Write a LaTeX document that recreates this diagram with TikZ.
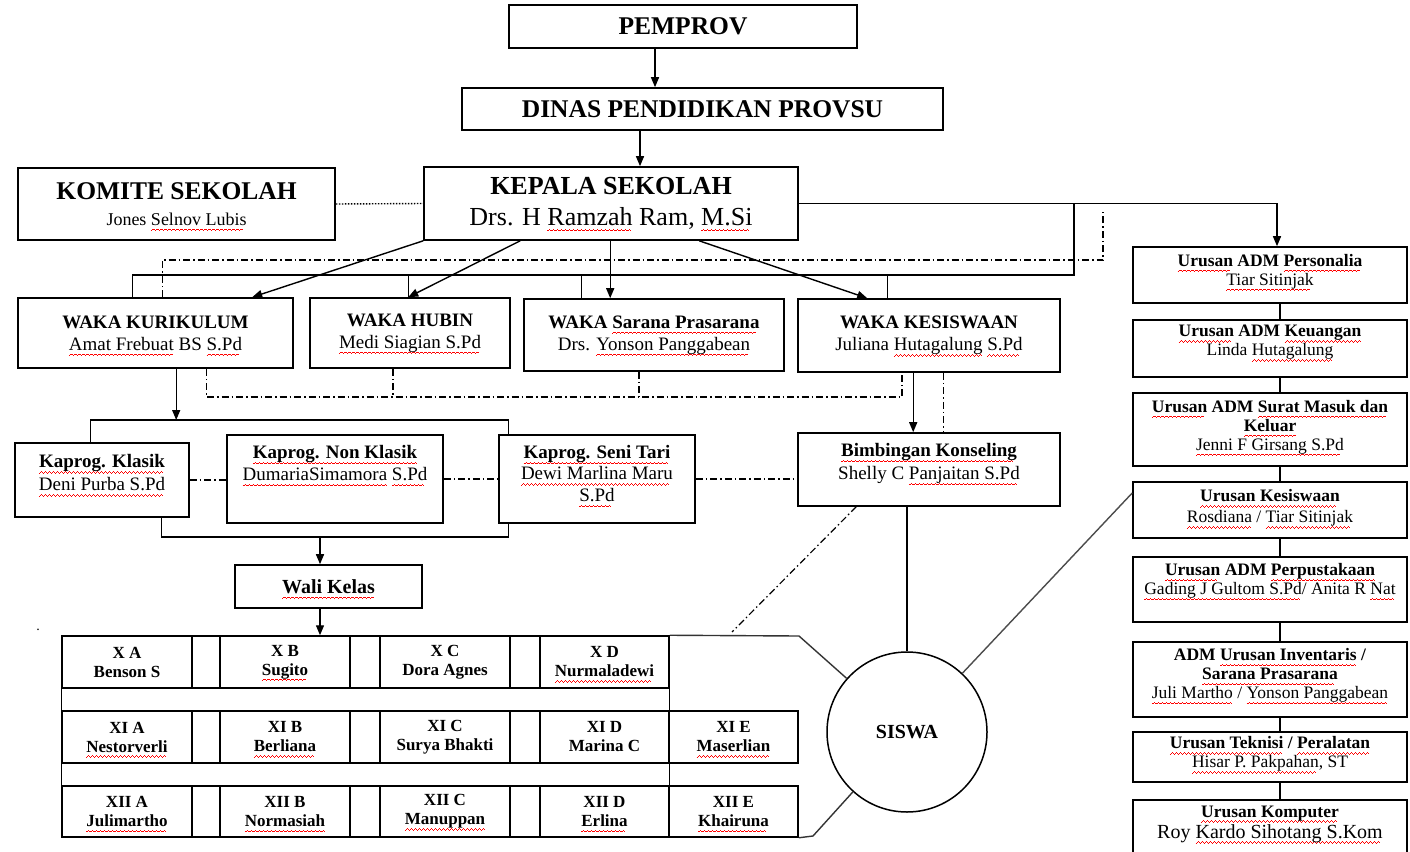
\documentclass[tikz,border=0pt]{standalone}
\usepackage{fontspec}
\setmainfont{Liberation Serif}
\usetikzlibrary{arrows.meta,calc}
\newsavebox\sqbox
\newcommand\sqpat{\hbox{\rule[-5.6pt]{1pt}{0.8pt}\rule[-4.9pt]{1pt}{0.8pt}\rule[-4.2pt]{1pt}{0.8pt}\rule[-4.9pt]{1pt}{0.8pt}}}
\newcommand\sq[1]{\leavevmode\sbox\sqbox{#1}\rlap{\smash{\color{red}\leaders\sqpat\hskip\wd\sqbox}}\usebox\sqbox}
\newcommand\fsz[2]{\fontsize{#1}{#2}\selectfont}
\begin{document}
\begin{tikzpicture}[x=1pt,y=-1pt,
  box/.style={draw,line width=1.6pt,inner sep=0pt,align=center},
  txt/.style={inner sep=0pt,align=center},
  ln/.style={line width=1.4pt},
  arr/.style={line width=1.4pt,-{Triangle[length=10pt,width=8pt]}},
  dd/.style={line width=1.2pt,dash pattern=on 7pt off 3pt on 1.5pt off 3pt},
  cell/.style={draw,line width=1.5pt,inner sep=0pt,align=center,font=\fsz{17}{19}\bfseries},
]
\fill[white] (0,0) rectangle (1410,851);
\useasboundingbox (0,0) rectangle (1410,851);

% top chain
\node[box,minimum width=348pt,minimum height=43pt,font=\fsz{25.5}{30}\bfseries] (pem) at (683,26.5) {PEMPROV};
\node[box,minimum width=481pt,minimum height=42pt,font=\fsz{25.5}{30}\bfseries] (din) at (702.5,109) {DINAS PENDIDIKAN PROVSU};
\node[box,minimum width=374pt,minimum height=73pt,font=\fsz{26}{31}] (kep) at (611,203.5) {\textbf{KEPALA SEKOLAH}\\Drs. H \sq{Ramzah} Ram, \sq{M.Si}};
\node[box,minimum width=317pt,minimum height=72pt,font=\fsz{18}{26}] (kom) at (176.5,204) {{\fsz{25.5}{26}\bfseries KOMITE SEKOLAH}\\Jones \sq{Selnov Lubis}};

% WAKA
\node[box,minimum width=275pt,minimum height=70pt,font=\fsz{19}{22}] (wk) at (155.5,333) {\textbf{WAKA KURIKULUM}\\\sq{Amat Frebuat} BS \sq{S.Pd}};
\node[box,minimum width=200pt,minimum height=70pt,font=\fsz{19}{22}] (hub) at (410,333) {\textbf{WAKA HUBIN}\\\sq{Medi Siagian S.Pd}};
\node[box,minimum width=260pt,minimum height=72pt,font=\fsz{19}{22}] (sar) at (654,335) {\textbf{WAKA \sq{Sarana Prasarana}}\\Drs. \sq{Yonson Panggabean}};
\node[box,minimum width=262pt,minimum height=73pt,font=\fsz{19}{22}] (kes) at (929,335.5) {\textbf{WAKA KESISWAAN}\\Juliana \sq{Hutagalung} \sq{S.Pd}};

% Kaprog + BK
\node[box,minimum width=174pt,minimum height=74pt] (kk) at (102,480) {};
\node[txt,font=\fsz{19}{23}] (kkT) at (102,473) {\textbf{\sq{Kaprog. Klasik}}\\\sq{Deni Purba S.Pd}};
\node[box,minimum width=216pt,minimum height=88pt] (knk) at (335,479) {};
\node[txt,font=\fsz{19}{22}] (knkT) at (335,463) {\textbf{\sq{Kaprog. Non Klasik}}\\\sq{DumariaSimamora} \sq{S.Pd}};
\node[box,minimum width=196pt,minimum height=88pt] (kst) at (597,479) {};
\node[txt,font=\fsz{19}{21.5}] (kstT) at (597,473.5) {\textbf{\sq{Kaprog. Seni Tari}}\\\sq{Dewi Marlina Maru}\\\sq{S.Pd}};
\node[box,minimum width=262pt,minimum height=73pt] (bk) at (929,469.5) {};
\node[txt,font=\fsz{19}{23}] (bkT) at (929,463.5) {\textbf{\sq{Bimbingan Konseling}}\\Shelly C \sq{Panjaitan S.Pd}};
\node[box,minimum width=187pt,minimum height=43pt,font=\fsz{20}{24}\bfseries] (wali) at (328.5,586.5) {\sq{Wali Kelas}};
\node[draw,circle,line width=1.5pt,minimum size=160pt,inner sep=0pt,font=\fsz{20}{24}\bfseries] (sis) at (907,732) {SISWA};

% class grid
\node[cell,minimum width=130pt,minimum height=52pt] (xa1) at (127,662) {X A\\Benson S};
\node[cell,minimum width=28pt,minimum height=52pt] (g11) at (206,662) {};
\node[cell,minimum width=130pt,minimum height=52pt] (xb1) at (285,662) {X B\\\sq{Sugito}};
\node[cell,minimum width=30pt,minimum height=52pt] (g12) at (365,662) {};
\node[cell,minimum width=130pt,minimum height=52pt] (xc1) at (445,662) {X C\\Dora Agnes};
\node[cell,minimum width=30pt,minimum height=52pt] (g13) at (525,662) {};
\node[cell,minimum width=129pt,minimum height=52pt] (xd1) at (604.5,662) {X D\\\sq{Nurmaladewi}};

\node[cell,minimum width=130pt,minimum height=52pt] (xa2) at (127,737) {XI A\\\sq{Nestorverli}};
\node[cell,minimum width=28pt,minimum height=52pt] (g21) at (206,737) {};
\node[cell,minimum width=130pt,minimum height=52pt] (xb2) at (285,737) {XI B\\\sq{Berliana}};
\node[cell,minimum width=30pt,minimum height=52pt] (g22) at (365,737) {};
\node[cell,minimum width=130pt,minimum height=52pt] (xc2) at (445,737) {XI C\\Surya Bhakti};
\node[cell,minimum width=30pt,minimum height=52pt] (g23) at (525,737) {};
\node[cell,minimum width=129pt,minimum height=52pt] (xd2) at (604.5,737) {XI D\\Marina C};
\node[cell,minimum width=129pt,minimum height=52pt] (xe2) at (733.5,737) {XI E\\\sq{Maserlian}};

\node[cell,minimum width=130pt,minimum height=51pt] (xa3) at (127,811.5) {XII A\\\sq{Julimartho}};
\node[cell,minimum width=28pt,minimum height=51pt] (g31) at (206,811.5) {};
\node[cell,minimum width=130pt,minimum height=51pt] (xb3) at (285,811.5) {XII B\\\sq{Normasiah}};
\node[cell,minimum width=30pt,minimum height=51pt] (g32) at (365,811.5) {};
\node[cell,minimum width=130pt,minimum height=51pt] (xc3) at (445,811.5) {XII C\\\sq{Manuppan}};
\node[cell,minimum width=30pt,minimum height=51pt] (g33) at (525,811.5) {};
\node[cell,minimum width=129pt,minimum height=51pt] (xd3) at (604.5,811.5) {XII D\\\sq{Erlina}};
\node[cell,minimum width=129pt,minimum height=51pt] (xe3) at (733.5,811.5) {XII E\\\sq{Khairuna}};

% Urusan column
\node[box,minimum width=274pt,minimum height=56pt] (u1) at (1270,275) {};
\node[txt,font=\fsz{17.5}{19}] (u1t) at (1270,271.5) {\textbf{\sq{Urusan} ADM \sq{Personalia}}\\\sq{Tiar Sitinjak}};
\node[box,minimum width=274pt,minimum height=57pt] (u2) at (1270,348.5) {};
\node[txt,font=\fsz{17.5}{19}] (u2t) at (1270,342.5) {\textbf{\sq{Urusan} ADM \sq{Keuangan}}\\Linda \sq{Hutagalung}};
\node[box,minimum width=274pt,minimum height=73pt] (u3) at (1270,429.5) {};
\node[txt,font=\fsz{17.5}{19}] (u3t) at (1270,427) {\textbf{\sq{Urusan} ADM \sq{Surat Masuk dan}}\\\textbf{\sq{Keluar}}\\\sq{Jenni F Girsang S.Pd}};
\node[box,minimum width=274pt,minimum height=56pt] (u4) at (1270,510) {};
\node[txt,font=\fsz{17.5}{21}] (u4t) at (1270,508) {\textbf{\sq{Urusan Kesiswaan}}\\\sq{Rosdiana} / \sq{Tiar Sitinjak}};
\node[box,minimum width=274pt,minimum height=65pt] (u5) at (1270,589.5) {};
\node[txt,font=\fsz{17.5}{19}] (u5t) at (1270,581) {\textbf{\sq{Urusan} ADM \sq{Perpustakaan}}\\\sq{Gading J Gultom S.Pd}/ Anita R \sq{Nat}};
\node[box,minimum width=274pt,minimum height=75pt] (u6) at (1270,679.5) {};
\node[txt,font=\fsz{17.5}{19}] (u6t) at (1270,675.5) {\textbf{ADM \sq{Urusan Inventaris} /}\\\textbf{\sq{Sarana Prasarana}}\\\sq{Juli Martho} / \sq{Yonson Panggabean}};
\node[box,minimum width=274pt,minimum height=50pt] (u7) at (1270,757) {};
\node[txt,font=\fsz{17.5}{19}] (u7t) at (1270,754) {\textbf{\sq{Urusan Teknisi} / \sq{Peralatan}}\\\sq{Hisar P. Pakpahan}, ST};
\node[box,minimum width=274pt,minimum height=70pt] (u8) at (1270,835) {};
\node[txt,font=\fsz{17.5}{21}] (u8t) at (1270,824) {\textbf{\sq{Urusan Komputer}}\\{\fsz{20}{21}Roy \sq{Kardo Sihotang S.Kom}}};

\node[inner sep=0pt,font=\fsz{14}{16}] (stray) at (38,630) {.};

% ---------- connectors ----------
\coordinate (a1) at (655,0);
\coordinate (a2) at (640,0);
\draw[arr] (pem.south -| a1) -- (din.north -| a1);
\draw[arr] (din.south -| a2) -- (kep.north -| a2);
\draw[ln,dash pattern=on 1.5pt off 1.5pt] (kom.east) -- (kep.west);
\coordinate (kr) at (1277,203.5);
\draw[arr] (kep.east) -- (kr) -- (u1.north -| kr);

\coordinate (wkA) at ([xshift=235pt]wk.north west);
\coordinate (hubA) at ([xshift=99pt]hub.north west);
\coordinate (sarA) at ([xshift=87pt]sar.north west);
\coordinate (kesA) at ([xshift=70pt]kes.north west);
\draw[arr] (kep.south west) -- (wkA);
\draw[arr] ([xshift=97pt]kep.south west) -- (hubA);
\draw[arr] (kep.south west -| sarA) -- (sarA);
\draw[arr] ([xshift=276pt]kep.south west) -- (kesA);

\coordinate (busR) at (1074,275);
\coordinate (wkB) at ([xshift=115pt]wk.north west);
\coordinate (sarB) at ([xshift=58pt]sar.north west);
\coordinate (kesB) at ([xshift=90pt]kes.north west);
\draw[ln] (wkB) |- (busR) -- (busR |- kep.east);
\draw[ln] (hubA |- busR) -- (hubA);
\draw[ln] (sarB |- busR) -- (sarB);
\draw[ln] (kesB |- busR) -- (kesB);

\coordinate (ddR) at (1103,260);
\coordinate (ddTop) at (1103,209);
\coordinate (wkC) at ([xshift=145pt]wk.north west);
\draw[dd] (wkC) |- (ddR) -- (ddTop);

\coordinate (dd2) at (902,397);
\coordinate (wkD) at ([xshift=189pt]wk.south west);
\coordinate (hubD) at ([xshift=-17pt]hub.south);
\coordinate (sarD) at ([xshift=-15pt]sar.south);
\coordinate (kesD) at ([xshift=-27pt]kes.south);
\draw[dd] (wkD) |- (dd2) -- (kesD);
\draw[dd] (hubD) -- (hubD |- dd2);
\draw[dd] (sarD) -- (sarD |- dd2);

\coordinate (wkE) at ([xshift=159pt]wk.south west);
\coordinate (brT) at (300,420);
\draw[arr] (wkE) -- (wkE |- brT);
\coordinate (kkN) at ([xshift=76pt]kk.north west);
\coordinate (kstN) at ([xshift=10pt]kst.north west);
\draw[ln] (kkN) |- (brT) -| (kstN);
\coordinate (brB) at (320,537);
\coordinate (kkS) at ([xshift=147pt]kk.south west);
\coordinate (kstS) at ([xshift=10pt]kst.south west);
\draw[ln] (kkS) |- (brB) -| (kstS);
\draw[arr] (brB) -- (wali.north -| brB);
\draw[arr] (wali.south -| brB) -- (xb1.north -| brB);

\draw[dd] (kk.east) -- (knk.west |- kk.east);
\draw[dd] (knk.east) -- (kst.west);
\draw[dd] (kst.east) -- (bk.west |- kst.east);

\coordinate (kesF) at ([xshift=116pt]kes.south west);
\coordinate (kesG) at ([xshift=146pt]kes.south west);
\draw[arr] (kesF) -- (kesF |- bk.north);
\draw[dd] (kesG) -- (kesG |- bk.north);

\draw[ln] (sis.north |- bk.south) -- (sis.north);
\coordinate (bkH) at ([xshift=59pt]bk.south west);
\coordinate (ddEnd) at (732,632);
\draw[dd] (bkH) -- (ddEnd);
\coordinate (u4L) at ([yshift=17pt]u4.west);
\draw[ln,black!70] (sis) -- (u4L);

\coordinate (gTR) at (799,636);
\coordinate (gBR) at (813,836);
\draw[ln] (xa1.north west) -- (xa3.south west);
\draw[ln] (xd1.north east) -- (xd3.south east);
\draw[ln,black!80] (xd1.north east) -- (gTR) -- (sis);
\draw[ln,black!80] (xe3.south east) -- (gBR) -- (sis);

\coordinate (ux) at (1280,0);
\foreach \a/\b in {u1/u2,u2/u3,u3/u4,u4/u5,u5/u6,u6/u7,u7/u8}
  \draw[ln] (\a.south -| ux) -- (\b.north -| ux);
\end{tikzpicture}
\end{document}
